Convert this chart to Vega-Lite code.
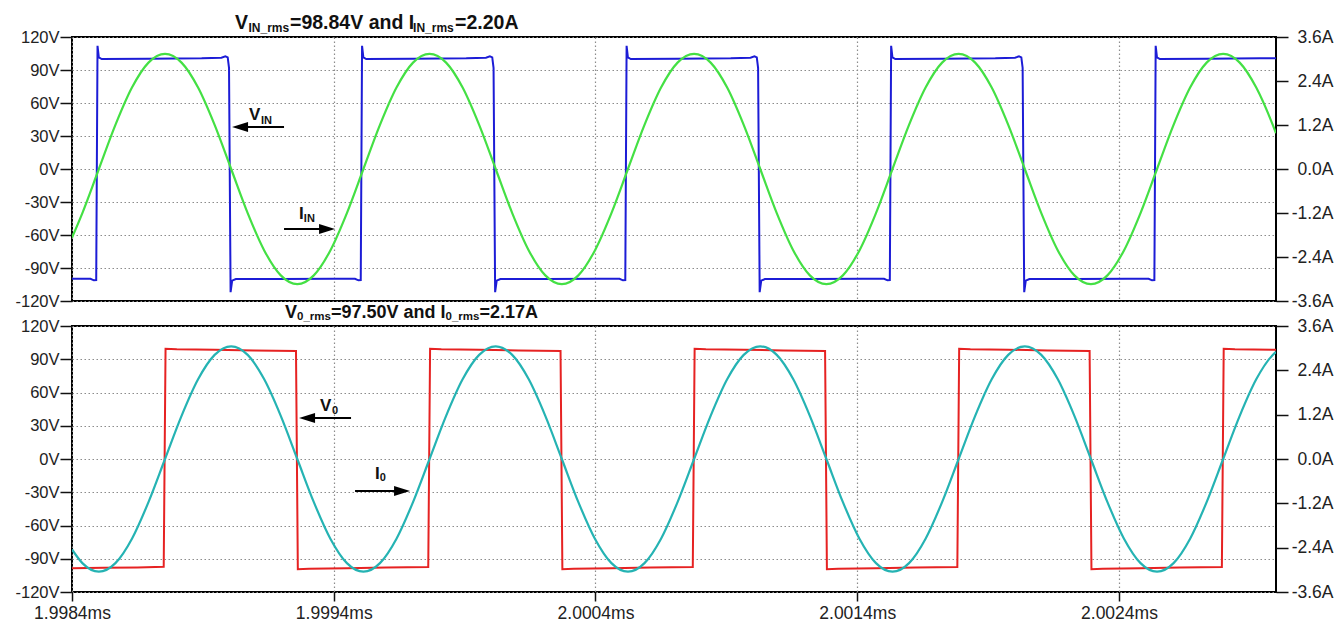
{
  "$schema": "https://vega.github.io/schema/vega-lite/v6.json",
  "background": "white",
  "padding": {"left": 13, "top": 11, "right": 5, "bottom": 0},
  "bounds": "flush",
  "spacing": 25,
  "config": {
    "font": "Liberation Sans",
    "view": {"stroke": "black", "strokeWidth": 2},
    "axis": {"labelFont": "Liberation Sans", "labelColor": "#222", "tickColor": "#111", "tickWidth": 1.5, "gridColor": "#8c8c8c", "gridDash": [1.5, 2.5], "gridWidth": 1.2, "domain": false, "labelFlush": false}
  },
  "datasets": {
    "vin": [
      {"t": 1998.4, "v": -99.7}, {"t": 1998.4705, "v": -99.8}, {"t": 1998.4835, "v": -101.2}, {"t": 1998.4925, "v": -101}, {"t": 1998.4975, "v": 112}, {"t": 1998.5025, "v": 101.5}, {"t": 1998.5135, "v": 100}, {"t": 1998.6955, "v": 100.2}, {"t": 1998.8955, "v": 100.6}, {"t": 1998.9709, "v": 101.2}, {"t": 1998.9859, "v": 102.4}, {"t": 1998.9949, "v": 101.5}, {"t": 1998.9999, "v": 92}, {"t": 1999.0059, "v": -112}, {"t": 1999.0119, "v": -101.5}, {"t": 1999.0259, "v": -100}, {"t": 1999.2009, "v": -99.9}, {"t": 1999.4009, "v": -99.7},
      {"t": 1999.4812, "v": -99.8}, {"t": 1999.4942, "v": -101.2}, {"t": 1999.5032, "v": -101}, {"t": 1999.5082, "v": 112}, {"t": 1999.5132, "v": 101.5}, {"t": 1999.5242, "v": 100}, {"t": 1999.7062, "v": 100.2}, {"t": 1999.9062, "v": 100.6}, {"t": 1999.9816, "v": 101.2}, {"t": 1999.9966, "v": 102.4}, {"t": 2000.0056, "v": 101.5}, {"t": 2000.0106, "v": 92}, {"t": 2000.0166, "v": -112}, {"t": 2000.0226, "v": -101.5}, {"t": 2000.0366, "v": -100}, {"t": 2000.2116, "v": -99.9}, {"t": 2000.4116, "v": -99.7},
      {"t": 2000.4919, "v": -99.8}, {"t": 2000.5049, "v": -101.2}, {"t": 2000.5139, "v": -101}, {"t": 2000.5189, "v": 112}, {"t": 2000.5239, "v": 101.5}, {"t": 2000.5349, "v": 100}, {"t": 2000.7169, "v": 100.2}, {"t": 2000.9169, "v": 100.6}, {"t": 2000.9923, "v": 101.2}, {"t": 2001.0073, "v": 102.4}, {"t": 2001.0163, "v": 101.5}, {"t": 2001.0213, "v": 92}, {"t": 2001.0273, "v": -112}, {"t": 2001.0333, "v": -101.5}, {"t": 2001.0473, "v": -100}, {"t": 2001.2223, "v": -99.9}, {"t": 2001.4223, "v": -99.7},
      {"t": 2001.5026, "v": -99.8}, {"t": 2001.5156, "v": -101.2}, {"t": 2001.5246, "v": -101}, {"t": 2001.5296, "v": 112}, {"t": 2001.5346, "v": 101.5}, {"t": 2001.5456, "v": 100}, {"t": 2001.7276, "v": 100.2}, {"t": 2001.9276, "v": 100.6}, {"t": 2002.003, "v": 101.2}, {"t": 2002.018, "v": 102.4}, {"t": 2002.027, "v": 101.5}, {"t": 2002.032, "v": 92}, {"t": 2002.038, "v": -112}, {"t": 2002.044, "v": -101.5}, {"t": 2002.058, "v": -100}, {"t": 2002.233, "v": -99.9}, {"t": 2002.433, "v": -99.7},
      {"t": 2002.5133, "v": -99.8}, {"t": 2002.5263, "v": -101.2}, {"t": 2002.5353, "v": -101}, {"t": 2002.5403, "v": 112}, {"t": 2002.5453, "v": 101.5}, {"t": 2002.5563, "v": 100}, {"t": 2002.7383, "v": 100.2}, {"t": 2002.9383, "v": 100.6}, {"t": 2003.0, "v": 100.7}
    ],
    "vo": [
      {"t": 1998.4, "v": -98.6}, {"t": 1998.52, "v": -98.2}, {"t": 1998.65, "v": -97.8}, {"t": 1998.7504, "v": -97.3},
      {"t": 1998.7574, "v": 99.4}, {"t": 1998.8004, "v": 99.0}, {"t": 1998.9454, "v": 98.6}, {"t": 1999.0954, "v": 98.0}, {"t": 1999.2558, "v": 97.4},
      {"t": 1999.2628, "v": -99.4}, {"t": 1999.3058, "v": -99.0}, {"t": 1999.4508, "v": -98.6}, {"t": 1999.6008, "v": -98.0}, {"t": 1999.7611, "v": -97.4},
      {"t": 1999.7681, "v": 99.4}, {"t": 1999.8111, "v": 99.0}, {"t": 1999.9561, "v": 98.6}, {"t": 2000.1061, "v": 98.0}, {"t": 2000.2665, "v": 97.4},
      {"t": 2000.2735, "v": -99.4}, {"t": 2000.3165, "v": -99.0}, {"t": 2000.4615, "v": -98.6}, {"t": 2000.6115, "v": -98.0}, {"t": 2000.7718, "v": -97.4},
      {"t": 2000.7788, "v": 99.4}, {"t": 2000.8218, "v": 99.0}, {"t": 2000.9668, "v": 98.6}, {"t": 2001.1168, "v": 98.0}, {"t": 2001.2772, "v": 97.4},
      {"t": 2001.2842, "v": -99.4}, {"t": 2001.3272, "v": -99.0}, {"t": 2001.4722, "v": -98.6}, {"t": 2001.6222, "v": -98.0}, {"t": 2001.7825, "v": -97.4},
      {"t": 2001.7895, "v": 99.4}, {"t": 2001.8325, "v": 99.0}, {"t": 2001.9775, "v": 98.6}, {"t": 2002.1275, "v": 98.0}, {"t": 2002.2879, "v": 97.4},
      {"t": 2002.2949, "v": -99.4}, {"t": 2002.3379, "v": -99.0}, {"t": 2002.4829, "v": -98.6}, {"t": 2002.6329, "v": -98.0}, {"t": 2002.7932, "v": -97.4},
      {"t": 2002.8002, "v": 99.4}, {"t": 2002.8432, "v": 99.0}, {"t": 2003.0, "v": 98.5}
    ],
    "sines": [
      {"t": 1998.4, "iin": -1.872, "io": -2.449},
      {"t": 1998.4396, "iin": -1.2016, "io": -2.8178},
      {"t": 1998.5027, "iin": 0, "io": -3.05},
      {"t": 1998.5659, "iin": 1.2016, "io": -2.8178},
      {"t": 1998.6291, "iin": 2.2203, "io": -2.1567},
      {"t": 1998.6922, "iin": 2.901, "io": -1.1672},
      {"t": 1998.7554, "iin": 3.14, "io": 0},
      {"t": 1998.8186, "iin": 2.901, "io": 1.1672},
      {"t": 1998.8817, "iin": 2.2203, "io": 2.1567},
      {"t": 1998.9449, "iin": 1.2016, "io": 2.8178},
      {"t": 1999.0081, "iin": 0, "io": 3.05},
      {"t": 1999.0712, "iin": -1.2016, "io": 2.8178},
      {"t": 1999.1344, "iin": -2.2203, "io": 2.1567},
      {"t": 1999.1976, "iin": -2.901, "io": 1.1672},
      {"t": 1999.2608, "iin": -3.14, "io": 0},
      {"t": 1999.3239, "iin": -2.901, "io": -1.1672},
      {"t": 1999.3871, "iin": -2.2203, "io": -2.1567},
      {"t": 1999.4503, "iin": -1.2016, "io": -2.8178},
      {"t": 1999.5134, "iin": 0, "io": -3.05},
      {"t": 1999.5766, "iin": 1.2016, "io": -2.8178},
      {"t": 1999.6398, "iin": 2.2203, "io": -2.1567},
      {"t": 1999.7029, "iin": 2.901, "io": -1.1672},
      {"t": 1999.7661, "iin": 3.14, "io": 0},
      {"t": 1999.8293, "iin": 2.901, "io": 1.1672},
      {"t": 1999.8924, "iin": 2.2203, "io": 2.1567},
      {"t": 1999.9556, "iin": 1.2016, "io": 2.8178},
      {"t": 2000.0188, "iin": 0, "io": 3.05},
      {"t": 2000.0819, "iin": -1.2016, "io": 2.8178},
      {"t": 2000.1451, "iin": -2.2203, "io": 2.1567},
      {"t": 2000.2083, "iin": -2.901, "io": 1.1672},
      {"t": 2000.2715, "iin": -3.14, "io": 0},
      {"t": 2000.3346, "iin": -2.901, "io": -1.1672},
      {"t": 2000.3978, "iin": -2.2203, "io": -2.1567},
      {"t": 2000.461, "iin": -1.2016, "io": -2.8178},
      {"t": 2000.5241, "iin": 0, "io": -3.05},
      {"t": 2000.5873, "iin": 1.2016, "io": -2.8178},
      {"t": 2000.6505, "iin": 2.2203, "io": -2.1567},
      {"t": 2000.7136, "iin": 2.901, "io": -1.1672},
      {"t": 2000.7768, "iin": 3.14, "io": 0},
      {"t": 2000.84, "iin": 2.901, "io": 1.1672},
      {"t": 2000.9031, "iin": 2.2203, "io": 2.1567},
      {"t": 2000.9663, "iin": 1.2016, "io": 2.8178},
      {"t": 2001.0295, "iin": 0, "io": 3.05},
      {"t": 2001.0926, "iin": -1.2016, "io": 2.8178},
      {"t": 2001.1558, "iin": -2.2203, "io": 2.1567},
      {"t": 2001.219, "iin": -2.901, "io": 1.1672},
      {"t": 2001.2822, "iin": -3.14, "io": 0},
      {"t": 2001.3453, "iin": -2.901, "io": -1.1672},
      {"t": 2001.4085, "iin": -2.2203, "io": -2.1567},
      {"t": 2001.4717, "iin": -1.2016, "io": -2.8178},
      {"t": 2001.5348, "iin": 0, "io": -3.05},
      {"t": 2001.598, "iin": 1.2016, "io": -2.8178},
      {"t": 2001.6612, "iin": 2.2203, "io": -2.1567},
      {"t": 2001.7243, "iin": 2.901, "io": -1.1672},
      {"t": 2001.7875, "iin": 3.14, "io": 0},
      {"t": 2001.8507, "iin": 2.901, "io": 1.1672},
      {"t": 2001.9138, "iin": 2.2203, "io": 2.1567},
      {"t": 2001.977, "iin": 1.2016, "io": 2.8178},
      {"t": 2002.0402, "iin": 0, "io": 3.05},
      {"t": 2002.1033, "iin": -1.2016, "io": 2.8178},
      {"t": 2002.1665, "iin": -2.2203, "io": 2.1567},
      {"t": 2002.2297, "iin": -2.901, "io": 1.1672},
      {"t": 2002.2929, "iin": -3.14, "io": 0},
      {"t": 2002.356, "iin": -2.901, "io": -1.1672},
      {"t": 2002.4192, "iin": -2.2203, "io": -2.1567},
      {"t": 2002.4824, "iin": -1.2016, "io": -2.8178},
      {"t": 2002.5455, "iin": 0, "io": -3.05},
      {"t": 2002.6087, "iin": 1.2016, "io": -2.8178},
      {"t": 2002.6719, "iin": 2.2203, "io": -2.1567},
      {"t": 2002.735, "iin": 2.901, "io": -1.1672},
      {"t": 2002.7982, "iin": 3.14, "io": 0},
      {"t": 2002.8614, "iin": 2.901, "io": 1.1672},
      {"t": 2002.9245, "iin": 2.2203, "io": 2.1567},
      {"t": 2002.9877, "iin": 1.2016, "io": 2.8178},
      {"t": 2003.0, "iin": 0.9766, "io": 2.8987}
    ],
    "ttop_main": [{"t": 1999.0229, "v": 127.3, "label": "V"}, {"t": 1999.233, "v": 127.3, "label": "=98.84V and I"}, {"t": 1999.8635, "v": 127.3, "label": "=2.20A"}],
    "ttop_sub": [{"t": 1999.0744, "v": 125.0, "label": "IN_rms"}, {"t": 1999.703, "v": 125.0, "label": "IN_rms"}],
    "atop_main": [{"t": 1999.0764, "v": 44.5, "label": "V"}, {"t": 1999.2674, "v": -45.5, "label": "I"}],
    "atop_sub": [{"t": 1999.1222, "v": 40.9, "label": "IN"}, {"t": 1999.2858, "v": -48.6, "label": "IN"}],
    "arr_top": [{"t": 1999.042, "t2": 1999.2101, "v": 38.2, "dir": "left"}, {"t": 1999.3744, "t2": 1999.2101, "v": -54.5, "dir": "right"}],
    "tbot_main": [{"t": 1999.2139, "v": 126.8, "label": "V"}, {"t": 1999.3893, "v": 126.8, "label": "=97.50V and I"}, {"t": 1999.9567, "v": 126.8, "label": "=2.17A"}],
    "tbot_sub": [{"t": 1999.2598, "v": 125.0, "label": "0_rms"}, {"t": 1999.8272, "v": 125.0, "label": "0_rms"}],
    "abot_main": [{"t": 1999.3477, "v": 43.0, "label": "V"}, {"t": 1999.5578, "v": -17.8, "label": "I"}],
    "abot_sub": [{"t": 1999.3935, "v": 40.2, "label": "0"}, {"t": 1999.5758, "v": -19.9, "label": "0"}],
    "arr_bot": [{"t": 1999.298, "t2": 1999.4661, "v": 37.0, "dir": "left"}, {"t": 1999.661, "t2": 1999.4814, "v": -28.9, "dir": "right"}]
  },
  "vconcat": [
    {
      "width": 1204,
      "height": 264,
      "resolve": {"scale": {"y": "independent"}},
      "layer": [
        {
          "data": {"name": "vin"},
          "mark": {"type": "line", "color": "#1c1cd6", "strokeWidth": 2, "clip": true},
          "encoding": {
            "x": {"field": "t", "type": "quantitative", "title": null, "scale": {"domain": [1998.4, 2003.0], "nice": false, "zero": false}, "axis": {"values": [1998.4, 1999.4, 2000.4, 2001.4, 2002.4], "grid": true, "labels": false, "ticks": false, "domain": false, "title": null}},
            "y": {"field": "v", "type": "quantitative", "title": null, "scale": {"domain": [-120, 120], "nice": false, "zero": false}, "axis": {"orient": "left", "values": [-120, -90, -60, -30, 0, 30, 60, 90, 120], "labelExpr": "datum.value + 'V'", "grid": true, "tickSize": 12, "labelPadding": 1, "labelFontSize": 16.5, "title": null}}
          }
        },
        {
          "data": {"name": "sines"},
          "mark": {"type": "line", "color": "#44e044", "strokeWidth": 2.2, "interpolate": "monotone", "clip": true},
          "encoding": {
            "x": {"field": "t", "type": "quantitative", "title": null},
            "y": {"field": "iin", "type": "quantitative", "title": null, "scale": {"domain": [-3.6, 3.6], "nice": false, "zero": false}, "axis": {"orient": "right", "values": [-3.6, -2.4, -1.2, 0, 1.2, 2.4, 3.6], "labelExpr": "datum.value == 0 ? '0.0A' : datum.value + 'A'", "grid": false, "tickSize": 12, "labelAlign": "right", "labelPadding": 45, "labelFontSize": 17.5, "title": null}}
          }
        },
        {
          "data": {"name": "ttop_main"},
          "mark": {"type": "text", "fontWeight": "bold", "fontSize": 19.5, "align": "left", "baseline": "alphabetic", "color": "#111"},
          "encoding": {
            "x": {"field": "t", "type": "quantitative", "title": null},
            "y": {"field": "v", "type": "quantitative", "title": null, "scale": {"domain": [-120, 120], "nice": false, "zero": false}, "axis": null},
            "text": {"field": "label"}
          }
        },
        {
          "data": {"name": "ttop_sub"},
          "mark": {"type": "text", "fontWeight": "bold", "fontSize": 12, "align": "left", "baseline": "alphabetic", "color": "#111"},
          "encoding": {
            "x": {"field": "t", "type": "quantitative", "title": null},
            "y": {"field": "v", "type": "quantitative", "title": null, "scale": {"domain": [-120, 120], "nice": false, "zero": false}, "axis": null},
            "text": {"field": "label"}
          }
        },
        {
          "data": {"name": "atop_main"},
          "mark": {"type": "text", "fontWeight": "bold", "fontSize": 17, "align": "left", "baseline": "alphabetic", "color": "#111"},
          "encoding": {
            "x": {"field": "t", "type": "quantitative", "title": null},
            "y": {"field": "v", "type": "quantitative", "title": null, "scale": {"domain": [-120, 120], "nice": false, "zero": false}, "axis": null},
            "text": {"field": "label"}
          }
        },
        {
          "data": {"name": "atop_sub"},
          "mark": {"type": "text", "fontWeight": "bold", "fontSize": 11, "align": "left", "baseline": "alphabetic", "color": "#111"},
          "encoding": {
            "x": {"field": "t", "type": "quantitative", "title": null},
            "y": {"field": "v", "type": "quantitative", "title": null, "scale": {"domain": [-120, 120], "nice": false, "zero": false}, "axis": null},
            "text": {"field": "label"}
          }
        },
        {
          "data": {"name": "arr_top"},
          "mark": {"type": "rule", "color": "black", "strokeWidth": 2},
          "encoding": {
            "x": {"field": "t", "type": "quantitative", "title": null},
            "x2": {"field": "t2"},
            "y": {"field": "v", "type": "quantitative", "title": null, "scale": {"domain": [-120, 120], "nice": false, "zero": false}, "axis": null}
          }
        },
        {
          "data": {"name": "arr_top"},
          "mark": {"type": "point", "filled": true, "color": "black", "opacity": 1, "size": 256, "strokeWidth": 0},
          "encoding": {
            "x": {"field": "t", "type": "quantitative", "title": null},
            "y": {"field": "v", "type": "quantitative", "title": null, "scale": {"domain": [-120, 120], "nice": false, "zero": false}, "axis": null},
            "shape": {"field": "dir", "type": "nominal", "scale": {"domain": ["left", "right"], "range": ["M-1,0L1,-0.62L1,0.62Z", "M1,0L-1,-0.62L-1,0.62Z"]}, "legend": null}
          }
        }
      ]
    },
    {
      "width": 1204,
      "height": 266,
      "resolve": {"scale": {"y": "independent"}},
      "layer": [
        {
          "data": {"name": "vo"},
          "mark": {"type": "line", "color": "#e62222", "strokeWidth": 2, "clip": true},
          "encoding": {
            "x": {"field": "t", "type": "quantitative", "title": null, "scale": {"domain": [1998.4, 2003.0], "nice": false, "zero": false}, "axis": {"values": [1998.4, 1999.4, 2000.4, 2001.4, 2002.4], "grid": true, "labelExpr": "format(datum.value / 1000, '.4f') + 'ms'", "tickSize": 9, "labelPadding": 3, "labelFontSize": 17.5, "domain": false, "title": null}},
            "y": {"field": "v", "type": "quantitative", "title": null, "scale": {"domain": [-120, 120], "nice": false, "zero": false}, "axis": {"orient": "left", "values": [-120, -90, -60, -30, 0, 30, 60, 90, 120], "labelExpr": "datum.value + 'V'", "grid": true, "tickSize": 12, "labelPadding": 1, "labelFontSize": 16.5, "title": null}}
          }
        },
        {
          "data": {"name": "sines"},
          "mark": {"type": "line", "color": "#25b3b3", "strokeWidth": 2.2, "interpolate": "monotone", "clip": true},
          "encoding": {
            "x": {"field": "t", "type": "quantitative", "title": null},
            "y": {"field": "io", "type": "quantitative", "title": null, "scale": {"domain": [-3.6, 3.6], "nice": false, "zero": false}, "axis": {"orient": "right", "values": [-3.6, -2.4, -1.2, 0, 1.2, 2.4, 3.6], "labelExpr": "datum.value == 0 ? '0.0A' : datum.value + 'A'", "grid": false, "tickSize": 12, "labelAlign": "right", "labelPadding": 45, "labelFontSize": 17.5, "title": null}}
          }
        },
        {
          "data": {"name": "tbot_main"},
          "mark": {"type": "text", "fontWeight": "bold", "fontSize": 18, "align": "left", "baseline": "alphabetic", "color": "#111"},
          "encoding": {
            "x": {"field": "t", "type": "quantitative", "title": null},
            "y": {"field": "v", "type": "quantitative", "title": null, "scale": {"domain": [-120, 120], "nice": false, "zero": false}, "axis": null},
            "text": {"field": "label"}
          }
        },
        {
          "data": {"name": "tbot_sub"},
          "mark": {"type": "text", "fontWeight": "bold", "fontSize": 11.5, "align": "left", "baseline": "alphabetic", "color": "#111"},
          "encoding": {
            "x": {"field": "t", "type": "quantitative", "title": null},
            "y": {"field": "v", "type": "quantitative", "title": null, "scale": {"domain": [-120, 120], "nice": false, "zero": false}, "axis": null},
            "text": {"field": "label"}
          }
        },
        {
          "data": {"name": "abot_main"},
          "mark": {"type": "text", "fontWeight": "bold", "fontSize": 17, "align": "left", "baseline": "alphabetic", "color": "#111"},
          "encoding": {
            "x": {"field": "t", "type": "quantitative", "title": null},
            "y": {"field": "v", "type": "quantitative", "title": null, "scale": {"domain": [-120, 120], "nice": false, "zero": false}, "axis": null},
            "text": {"field": "label"}
          }
        },
        {
          "data": {"name": "abot_sub"},
          "mark": {"type": "text", "fontWeight": "bold", "fontSize": 11, "align": "left", "baseline": "alphabetic", "color": "#111"},
          "encoding": {
            "x": {"field": "t", "type": "quantitative", "title": null},
            "y": {"field": "v", "type": "quantitative", "title": null, "scale": {"domain": [-120, 120], "nice": false, "zero": false}, "axis": null},
            "text": {"field": "label"}
          }
        },
        {
          "data": {"name": "arr_bot"},
          "mark": {"type": "rule", "color": "black", "strokeWidth": 2},
          "encoding": {
            "x": {"field": "t", "type": "quantitative", "title": null},
            "x2": {"field": "t2"},
            "y": {"field": "v", "type": "quantitative", "title": null, "scale": {"domain": [-120, 120], "nice": false, "zero": false}, "axis": null}
          }
        },
        {
          "data": {"name": "arr_bot"},
          "mark": {"type": "point", "filled": true, "color": "black", "opacity": 1, "size": 256, "strokeWidth": 0},
          "encoding": {
            "x": {"field": "t", "type": "quantitative", "title": null},
            "y": {"field": "v", "type": "quantitative", "title": null, "scale": {"domain": [-120, 120], "nice": false, "zero": false}, "axis": null},
            "shape": {"field": "dir", "type": "nominal", "scale": {"domain": ["left", "right"], "range": ["M-1,0L1,-0.62L1,0.62Z", "M1,0L-1,-0.62L-1,0.62Z"]}, "legend": null}
          }
        }
      ]
    }
  ]
}
